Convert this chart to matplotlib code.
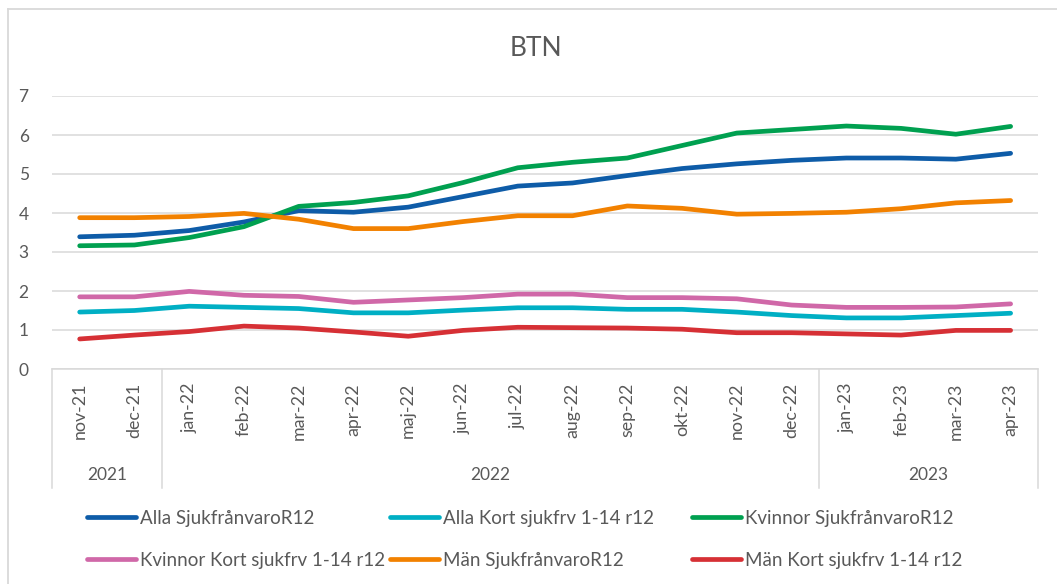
import matplotlib
matplotlib.use("Agg")
import matplotlib.pyplot as plt
from matplotlib.lines import Line2D
import matplotlib.transforms as mtransforms

plt.rcParams['font.family'] = ['Lato', 'DejaVu Sans']

months = ["nov-21", "dec-21", "jan-22", "feb-22", "mar-22", "apr-22", "maj-22", "jun-22",
          "jul-22", "aug-22", "sep-22", "okt-22", "nov-22", "dec-22", "jan-23", "feb-23",
          "mar-23", "apr-23"]
years = ["2021", "2022", "2023"]
year_counts = [2, 12, 4]

alla_sjuk = [3.39, 3.43, 3.55, 3.77, 4.06, 4.02, 4.15, 4.42, 4.69, 4.77, 4.96, 5.14,
             5.26, 5.35, 5.41, 5.41, 5.38, 5.53]
alla_kort = [1.46, 1.50, 1.61, 1.58, 1.55, 1.44, 1.44, 1.51, 1.57, 1.57, 1.53, 1.53,
             1.46, 1.37, 1.31, 1.31, 1.37, 1.43]
kvinnor_sjuk = [3.16, 3.18, 3.37, 3.65, 4.17, 4.27, 4.44, 4.78, 5.16, 5.30, 5.41, 5.73,
                6.05, 6.14, 6.23, 6.17, 6.02, 6.22]
kvinnor_kort = [1.85, 1.85, 1.99, 1.89, 1.86, 1.71, 1.77, 1.83, 1.92, 1.92, 1.83, 1.83,
                1.80, 1.64, 1.58, 1.58, 1.59, 1.67]
man_sjuk = [3.88, 3.88, 3.91, 3.99, 3.84, 3.60, 3.60, 3.78, 3.93, 3.93, 4.18, 4.12,
            3.97, 3.99, 4.02, 4.11, 4.26, 4.32]
man_kort = [0.77, 0.87, 0.96, 1.10, 1.05, 0.95, 0.84, 0.99, 1.07, 1.06, 1.05, 1.02,
            0.93, 0.93, 0.90, 0.87, 0.99, 0.99]

series_names = ["Alla SjukfrånvaroR12", "Alla Kort sjukfrv 1-14 r12", "Kvinnor SjukfrånvaroR12",
                "Kvinnor Kort sjukfrv 1-14 r12", "Män SjukfrånvaroR12", "Män Kort sjukfrv 1-14 r12"]
series_values = [alla_sjuk, alla_kort, kvinnor_sjuk, kvinnor_kort, man_sjuk, man_kort]
colors = ["#0E5CA8", "#00AFC4", "#00A050", "#D068A8", "#F28100", "#D63035"]

TXT = "#595959"
GRID = "#D9D9D9"
W, H = 1057, 584

fig = plt.figure(figsize=(W / 100, H / 100), dpi=100)
left, right, top, bottom = 52.3, 1038, 96, 369
ax = fig.add_axes([left / W, 1 - bottom / H, (right - left) / W, (bottom - top) / H])

x = list(range(len(months)))
handles = []
for name, vals, c in zip(series_names, series_values, colors):
    ln, = ax.plot(x, vals, color=c, lw=3.4, solid_capstyle='round', solid_joinstyle='round',
                  label=name, zorder=3)
    handles.append(ln)

ax.set_xlim(-0.5, len(months) - 0.5)
ax.set_ylim(0, 7)
ax.set_yticks(range(0, 8))
ax.yaxis.grid(True, color=GRID, lw=1.1)
ax.set_axisbelow(True)
for s in ['left', 'right', 'top']:
    ax.spines[s].set_visible(False)
ax.spines['bottom'].set_color(GRID)
ax.spines['bottom'].set_linewidth(1.1)
ax.tick_params(axis='y', length=0, pad=17, labelsize=12.5, labelcolor=TXT)
ax.set_xticks(x)
ax.set_xticklabels(months, rotation=90, fontsize=12.8, color=TXT)
ax.tick_params(axis='x', length=0, pad=10)

# multi-level category separators and year labels
ah = bottom - top
trans = mtransforms.blended_transform_factory(ax.transData, ax.transAxes)
sep_bottom = -(488 - bottom) / ah
pos = -0.5
ax.plot([pos, pos], [0, sep_bottom], color=GRID, lw=1.1, transform=trans, clip_on=False)
for yr, n in zip(years, year_counts):
    center = pos + n / 2
    ax.text(center, -(475 - bottom) / ah, yr, transform=trans, ha='center', va='center',
            fontsize=12.5, color=TXT)
    pos += n
    ax.plot([pos, pos], [0, sep_bottom], color=GRID, lw=1.1, transform=trans, clip_on=False)

fig.text(536 / W, 1 - 48 / H, "BTN", ha='center', va='center', fontsize=19, color=TXT)

# legend: three columns, two rows
col_x = [87, 390, 692]
for ci in range(3):
    hs = [handles[ci], handles[ci + 3]]
    lg = fig.legend(hs, [h.get_label() for h in hs], loc='upper left',
                    bbox_to_anchor=(col_x[ci] / W, 1 - 510 / H), frameon=False,
                    handlelength=2.6, handletextpad=0.22, labelspacing=1.32,
                    borderpad=0, borderaxespad=0,
                    prop={'family': ['Lato', 'DejaVu Sans'], 'size': 13.5})
    for t in lg.get_texts():
        t.set_color(TXT)

# chart border
fig.add_artist(Line2D([8 / W, 8 / W], [0, 1 - 9 / H], transform=fig.transFigure, color=GRID, lw=1.3))
fig.add_artist(Line2D([8 / W, 1], [1 - 9 / H, 1 - 9 / H], transform=fig.transFigure, color=GRID, lw=1.3))

fig.savefig("out.png", dpi=100, facecolor='white')
